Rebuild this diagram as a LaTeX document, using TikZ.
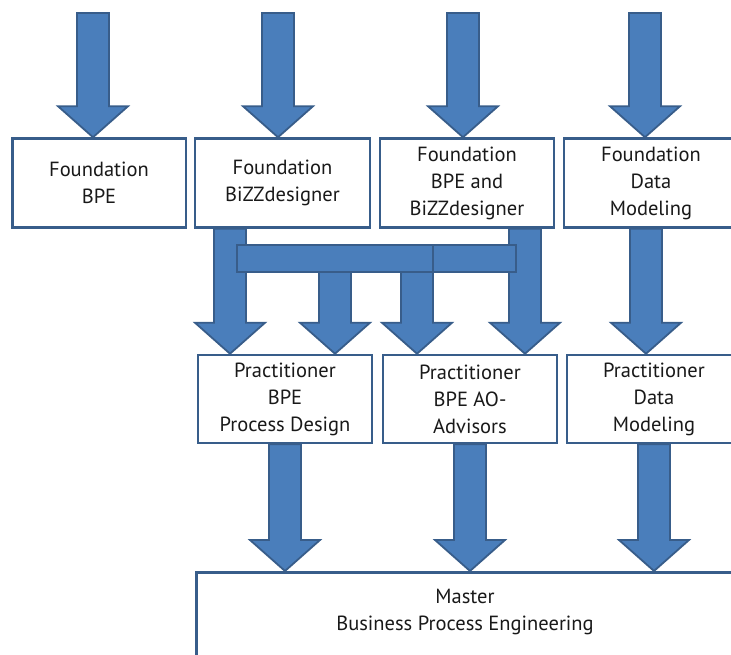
\documentclass[tikz,border=0pt]{standalone}
\usepackage{fontspec}
\setmainfont{PT Sans}
\usetikzlibrary{calc}
\pgfdeclarelayer{front}
\pgfsetlayers{main,front}
\definecolor{arrowblue}{HTML}{4A7EBB}
\definecolor{edgeblue}{HTML}{385D8A}
\newcommand{\blockarrow}[2]{%
  \draw[barrow] let \p1=#1, \p2=#2 in
    (\x2-16pt,\y1) -- (\x2-16pt,\y2+31pt) -- (\x2-35pt,\y2+31pt) -- (\x2,\y2)
    -- (\x2+35pt,\y2+31pt) -- (\x2+16pt,\y2+31pt) -- (\x2+16pt,\y1) -- cycle;}

\begin{document}
\begin{tikzpicture}[x=1pt, y=1pt, font=\fontsize{20.5}{27}\selectfont, text=black!90,
  box/.style={draw=edgeblue, line width=2.5pt, fill=white, align=center,
    minimum width=174, minimum height=89},
  barrow/.style={draw=edgeblue, fill=arrowblue, line width=1.8pt, line join=miter},
  bar/.style={draw=edgeblue, fill=arrowblue, line width=1.8pt, inner sep=0,
    minimum height=27}]
\useasboundingbox (0,0) rectangle (731,654);
\clip (0,0) rectangle (731,654);

\node[box, minimum width=173.5] (B1) at (99,471) {Foundation\\BPE};
\node[box, minimum width=175] (B2) at (282.5,471) {Foundation\\BiZZdesigner};
\node[box] (B3) at (467,471) {Foundation\\BPE and\\BiZZdesigner};
\node[box] (B4) at (651,471) {Foundation\\Data\\Modeling};

\node[box, minimum height=88] (P1) at (285,255) {Practitioner\\BPE\\Process Design};
\node[box, minimum height=88] (P2) at (470,255) {Practitioner\\BPE AO-\\Advisors};
\node[box, minimum height=88] (P3) at (654,255) {Practitioner\\Data\\Modeling};

\node[box, anchor=north, minimum width=537.5, minimum height=150,
  label={[anchor=north, yshift=-18, inner sep=0, align=center]90:Master\\Business Process Engineering}]
  (master) at (465,83) {};

\coordinate (in1) at (93,641);
\coordinate (in2) at (278,641);
\coordinate (in3) at (463,641);
\coordinate (in4) at (645,641);

\blockarrow{(in1)}{(in1 |- B1.north)}
\blockarrow{(in2)}{(in2 |- B2.north)}
\blockarrow{(in3)}{(in3 |- B3.north)}
\blockarrow{(in4)}{(in4 |- B4.north)}

% joined paths from the two BiZZdesigner courses
\blockarrow{(B2.south)}{([xshift=-55]P1.north)}
\blockarrow{(B3.south)}{([xshift=55]P2.north)}
\begin{pgfonlayer}{front}
\node[bar, minimum width=196] (barL) at (335,395.5) {};
\node[bar, minimum width=83] (barR) at (474.5,395.5) {};
\end{pgfonlayer}
\blockarrow{(barL.center)}{([xshift=50]P1.north)}
\blockarrow{(barL.center)}{([xshift=-53]P2.north)}
\blockarrow{(B4.south)}{([xshift=-8]P3.north)}

\blockarrow{(P1.south)}{(P1.south |- master.north)}
\blockarrow{(P2.south)}{(P2.south |- master.north)}
\blockarrow{(P3.south)}{(P3.south |- master.north)}
\end{tikzpicture}
\end{document}
